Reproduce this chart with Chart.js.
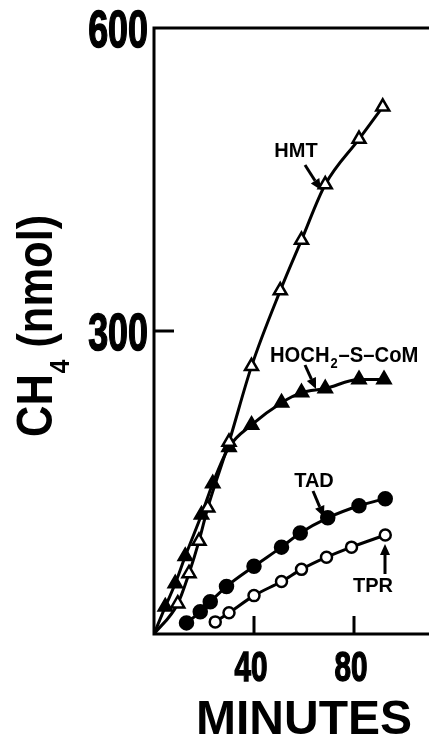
<!DOCTYPE html>
<html>
<head>
<meta charset="utf-8">
<script src="https://cdn.jsdelivr.net/npm/chart.js@4"></script>
<style>
  html, body { margin: 0; padding: 0; background: #fff; overflow: hidden; }
  canvas { display: block; }
</style>
</head>
<body>
<canvas id="chart" width="429" height="738"></canvas>
<script>
const ctx = document.getElementById("chart").getContext("2d");

// HMT (open triangles)
const hmtMin = [0, 9.5, 14, 18, 21.5, 30, 39, 50.5, 59, 68.5, 82, 91.5];
const hmtCH4 = [0, 30, 60, 92, 125, 190, 265, 340, 390, 445, 490, 522];
// HOCH2-S-CoM (filled triangles)
const comMin = [0, 4.5, 8.5, 12.5, 19, 23.5, 30, 39, 51, 59, 68.5, 82, 92];
const comCH4 = [0, 27, 50, 77, 118, 149, 185, 207, 229, 239, 243, 252, 252];
// TAD (filled circles)
const tadMin = [13, 18.5, 22.5, 29, 40, 51, 58.5, 69.5, 82, 92.5];
const tadCH4 = [11, 22, 32, 47, 67, 86, 100, 115, 127, 134];
// TPR (open circles)
const tprMin = [24.5, 30, 40, 51, 59, 69, 79, 92.5];
const tprCH4 = [12, 21, 38, 52, 64, 76, 86, 98];

const xTicks = [40, 80];
const yTicks = [300, 600];

const FONT = '"Liberation Sans", Arial, sans-serif';

function toPoints(xs, ys) {
  return xs.map((x, i) => ({ x: x, y: ys[i] }));
}

function line(c, x1, y1, x2, y2) {
  c.beginPath();
  c.moveTo(x1, y1);
  c.lineTo(x2, y2);
  c.stroke();
}

function arrow(c, x1, y1, x2, y2) {
  const ang = Math.atan2(y2 - y1, x2 - x1);
  const len = 11, half = 5;
  const bx = x2 - Math.cos(ang) * len, by = y2 - Math.sin(ang) * len;
  line(c, x1, y1, bx, by);
  c.beginPath();
  c.moveTo(x2, y2);
  c.lineTo(bx + Math.sin(ang) * half, by - Math.cos(ang) * half);
  c.lineTo(bx - Math.sin(ang) * half, by + Math.cos(ang) * half);
  c.closePath();
  c.fill();
}

// condensed heavy digits like the original lettering
function condText(c, txt, x, y, size, sx, align) {
  c.save();
  c.translate(x, y);
  c.scale(sx, 1);
  c.font = `bold ${size}px ${FONT}`;
  c.textAlign = align;
  c.lineWidth = 1.5;
  c.fillText(txt, 0, 0);
  c.strokeText(txt, 0, 0);
  c.restore();
}

//! axes, ticks, labels and annotations
const framePlugin = {
  id: "frame",
  afterDraw(chart) {
    const c = chart.ctx;
    const a = chart.chartArea;
    const x = chart.scales.x, y = chart.scales.y;
    c.save();
    c.strokeStyle = "#000";
    c.fillStyle = "#000";
    c.lineWidth = 3;
    c.lineCap = "butt";
    c.beginPath();
    c.moveTo(chart.width, a.top);
    c.lineTo(a.left, a.top);
    c.lineTo(a.left, a.bottom);
    c.lineTo(chart.width, a.bottom);
    c.stroke();

    xTicks.forEach((v) => {
      const px = x.getPixelForValue(v);
      line(c, px, a.bottom, px, a.bottom - 18);
      condText(c, String(v), px - 3, 681, 43, 0.69, "center");
    });
    yTicks.forEach((v) => {
      const py = y.getPixelForValue(v);
      if (v < y.max) line(c, a.left, py, a.left + 20, py);
      condText(c, String(v), a.left - 6, py + 18.5, 52, 0.69, "right");
    });

    // x title
    c.font = `bold 48px ${FONT}`;
    c.textAlign = "center";
    c.fillText("MINUTES", 304, 734);

    // y title, rotated
    c.save();
    c.translate(52, 437);
    c.rotate(-Math.PI / 2);
    c.scale(0.87, 1);
    c.textAlign = "left";
    c.font = `bold 50px ${FONT}`;
    c.fillText("CH", 0, 0);
    let w = c.measureText("CH").width;
    c.font = `bold 28px ${FONT}`;
    c.fillText("4", w + 1, 17);
    w += c.measureText("4").width + 1;
    c.font = `bold 50px ${FONT}`;
    c.fillText(" (nmol)", w, 0);
    c.restore();

    // curve labels
    c.font = `bold 20px ${FONT}`;
    c.textAlign = "center";
    c.fillText("HMT", 296, 157);
    c.fillText("TAD", 314, 487);
    c.fillText("TPR", 373, 592);

    c.save();
    c.translate(270, 362);
    c.scale(0.92, 1);
    c.textAlign = "left";
    c.font = `bold 22px ${FONT}`;
    c.fillText("HOCH", 0, 0);
    let hw = c.measureText("HOCH").width;
    c.font = `bold 14px ${FONT}`;
    c.fillText("2", hw + 1, 6);
    hw += c.measureText("2").width + 2;
    c.font = `bold 22px ${FONT}`;
    c.fillText("\u2013S\u2013CoM", hw, 0);
    c.restore();

    c.lineWidth = 3;
    arrow(c, 305, 165, 321, 190);
    arrow(c, 305, 365, 316, 389);
    arrow(c, 313, 491, 324, 517);
    arrow(c, 385, 574, 385, 544);
    c.restore();
  },
};

const common = {
  showLine: true,
  cubicInterpolationMode: "monotone",
  borderColor: "#000",
  borderWidth: 3,
  pointBorderColor: "#000",
  pointBorderWidth: 2.5,
};

new Chart(ctx, {
  type: "scatter",
  data: {
    datasets: [
      {
        ...common,
        label: "HMT",
        data: toPoints(hmtMin, hmtCH4),
        pointStyle: "triangle",
        pointRadius: hmtMin.map((m) => (m === 0 ? 0 : 7.5)),
        pointBackgroundColor: "#fff",
      },
      {
        ...common,
        label: "HOCH2-S-CoM",
        data: toPoints(comMin, comCH4),
        pointStyle: "triangle",
        pointRadius: comMin.map((m) => (m === 0 ? 0 : 7.5)),
        pointBackgroundColor: "#000",
      },
      {
        ...common,
        label: "TAD",
        data: toPoints(tadMin, tadCH4),
        pointStyle: "circle",
        pointRadius: 6.5,
        pointBackgroundColor: "#000",
      },
      {
        ...common,
        label: "TPR",
        data: toPoints(tprMin, tprCH4),
        pointStyle: "circle",
        pointRadius: 5.5,
        pointBackgroundColor: "#fff",
      },
    ],
  },
  options: {
    responsive: false,
    animation: false,
    layout: { padding: { left: 154, top: 28, right: 0, bottom: 104 } },
    plugins: { legend: { display: false }, tooltip: { enabled: false } },
    scales: {
      x: { type: "linear", min: 0, max: 106, display: false },
      y: { type: "linear", min: 0, max: 600, display: false },
    },
  },
  plugins: [framePlugin],
});
</script>
</body>
</html>
